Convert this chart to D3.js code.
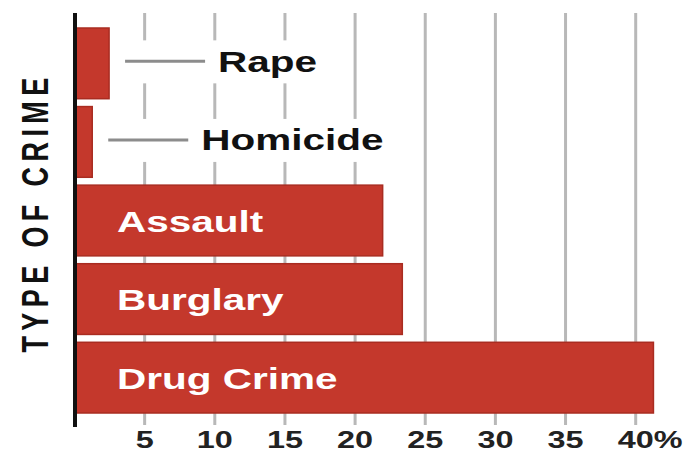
<!DOCTYPE html>
<html>
<head>
<meta charset="utf-8">
<script src="https://cdn.jsdelivr.net/npm/d3@7"></script>
<style>
  html, body { margin: 0; padding: 0; background: #fff; }
  svg { display: block; }
  text { font-family: "Liberation Sans", Arial, Helvetica, sans-serif; }
</style>
</head>
<body>
<svg id="chart" width="700" height="453"></svg>
<script>
// ---- data ----
const categories = ["Rape", "Homicide", "Assault", "Burglary", "Drug Crime"];
const values = [2.5, 1.3, 22.0, 23.4, 41.3];
const tickValues = [5, 10, 15, 20, 25, 30, 35, 40];
const axisTitle = "TYPE OF CRIME";
const outsideLabels = ["Rape", "Homicide"];

// ---- layout / style ----
const W = 700, H = 453;
const SX = 1.35;               // horizontal stretch of the original artwork
const barColor = "#c4382c";
const barStroke = "#a92c21";
const gridColor = "#b8b8b8";

const svg = d3.select("#chart");
svg.append("rect").attr("width", W).attr("height", H).attr("fill", "#fff");

const x = d3.scaleLinear().domain([0, 40]).range([74, 635.2]);
const y = d3.scaleBand().domain(categories).range([28, 413]).paddingInner(0.1).paddingOuter(0);

const gridTop = 13, gridBottom = 425;

// gridlines + tick labels via axis
const axisG = svg.append("g")
  .attr("transform", `translate(0,${gridBottom})`)
  .call(d3.axisBottom(x).tickValues(tickValues).tickSize(-(gridBottom - gridTop)).tickPadding(0).tickFormat(d3.format("d")));
axisG.select(".domain").remove();
axisG.selectAll(".tick line").attr("stroke", gridColor).attr("stroke-width", 3);
axisG.selectAll(".tick text")
  .attr("fill", "#222")
  .attr("font-size", 24)
  .attr("font-weight", "bold")
  .attr("y", 23)
  .attr("dy", null)
  .attr("transform", `scale(${SX},1)`);
// add % after last label, keeping number centred on gridline
axisG.selectAll(".tick text").filter(d => d === tickValues[tickValues.length - 1]).each(function() {
  const t = d3.select(this);
  const len = this.getComputedTextLength();
  t.attr("text-anchor", "start").attr("x", -len / 2);
  t.append("tspan").text("%");
});

// bars
const data = categories.map((c, i) => ({ cat: c, val: values[i] }));
svg.append("g").selectAll("rect").data(data).join("rect")
  .attr("x", x(0))
  .attr("y", d => y(d.cat))
  .attr("width", d => x(d.val) - x(0))
  .attr("height", y.bandwidth())
  .attr("fill", barColor)
  .attr("stroke", barStroke)
  .attr("stroke-width", 1.5);

// inside labels
svg.append("g").selectAll("text").data(data.filter(d => !outsideLabels.includes(d.cat))).join("text")
  .attr("transform", d => `translate(117,${y(d.cat) + y.bandwidth() / 2 + 11}) scale(${SX},1)`)
  .attr("fill", "#fff")
  .attr("font-size", 30)
  .attr("font-weight", "bold")
  .text(d => d.cat);

// outside labels with leader lines and white backgrounds
const outG = svg.append("g");
data.filter(d => outsideLabels.includes(d.cat)).forEach(d => {
  const cy = y(d.cat) + y.bandwidth() / 2 - 2;
  const lx0 = x(d.val) + 16;
  const lx1 = lx0 + 80;
  const tx = lx1 + 13;
  const g = outG.append("g");
  const bg = g.append("rect").attr("fill", "#fff");
  g.append("line")
    .attr("x1", lx0).attr("x2", lx1).attr("y1", cy).attr("y2", cy)
    .attr("stroke", "#8c8c8c").attr("stroke-width", 3);
  const t = g.append("text")
    .attr("transform", `translate(${tx},${cy + 10.5}) scale(${SX},1)`)
    .attr("fill", "#111")
    .attr("font-size", 30)
    .attr("font-weight", "bold")
    .text(d.cat);
  const len = t.node().getComputedTextLength() * SX;
  bg.attr("x", lx0 - 4).attr("y", cy - 21).attr("width", tx + len + 6 - (lx0 - 4)).attr("height", 43);
});

// y axis line
svg.append("line")
  .attr("x1", 75).attr("x2", 75).attr("y1", gridTop).attr("y2", 427)
  .attr("stroke", "#111").attr("stroke-width", 4);

// y axis title
svg.append("text")
  .attr("transform", `translate(48,${(75 + 350) / 2}) scale(${SX},1) rotate(-90)`)
  .attr("text-anchor", "middle")
  .attr("font-size", 27)
  .attr("font-weight", "bold")
  .attr("letter-spacing", 5.4)
  .attr("fill", "#111")
  .text(axisTitle);
</script>
</body>
</html>
